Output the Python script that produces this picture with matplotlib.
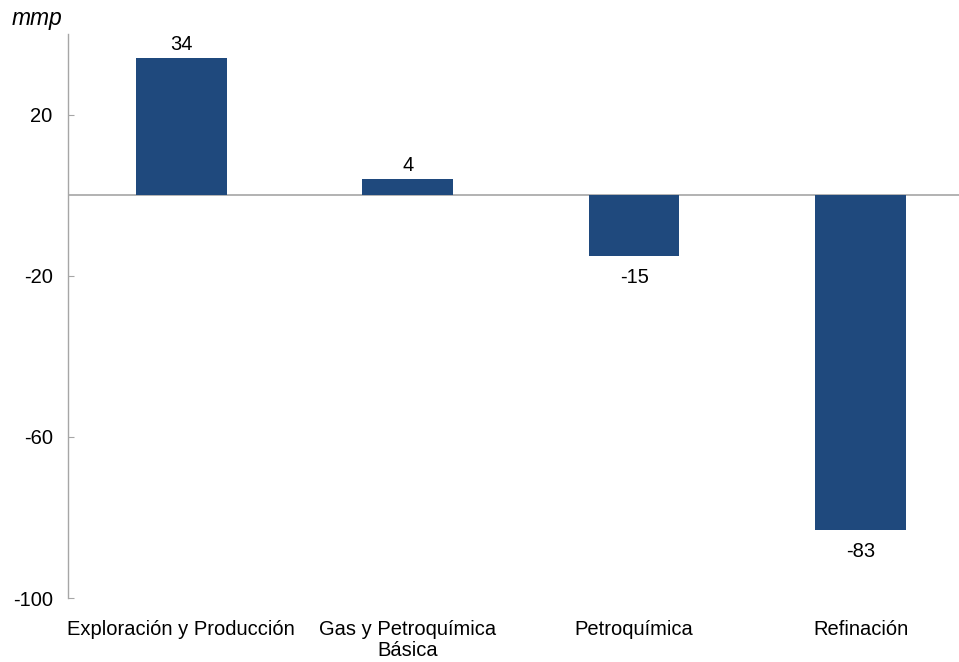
import numpy as np
import matplotlib.pyplot as plt

plt.rcParams['font.family'] = ['Liberation Sans', 'DejaVu Sans']

# datos
categorias = ['Exploración y Producción', 'Gas y Petroquímica\nBásica', 'Petroquímica', 'Refinación']
valores = [34, 4, -15, -83]
yticks = [-100, -60, -20, 20]

color_barra = '#1f497d'
color_eje = '#a6a6a6'
fs = 14.5

fig = plt.figure(figsize=(9.59, 6.62), dpi=100)
ax = fig.add_axes([68 / 959, 1 - 598 / 662, 1 - 68 / 959, (598 - 34) / 662])

x = np.arange(len(categorias))
ax.bar(x, valores, width=0.4, color=color_barra, zorder=2)

# etiquetas de valor
for xi, v in zip(x, valores):
    if v >= 0:
        ax.annotate(str(v), (xi, v), xytext=(0, 3), textcoords='offset points',
                    ha='center', va='bottom', fontsize=fs)
    else:
        ax.annotate(str(v), (xi, v), xytext=(0, -9), textcoords='offset points',
                    ha='center', va='top', fontsize=fs)

ax.axhline(0, color=color_eje, lw=1.2, zorder=1)

ax.set_ylim(-100, 40)
ax.set_xlim(-0.5, 3.435)
ax.set_yticks(yticks)
ax.set_yticklabels([str(t) for t in yticks], fontsize=fs)
ax.set_xticks(x)
ax.set_xticklabels(categorias, fontsize=fs, linespacing=1.12)

for s in ['top', 'right', 'bottom']:
    ax.spines[s].set_visible(False)
ax.spines['left'].set_color(color_eje)
ax.spines['left'].set_linewidth(1.0)

ax.tick_params(axis='y', direction='in', length=4, color=color_eje, pad=11)
ax.tick_params(axis='x', length=0, pad=16)

fig.text(12 / 959, 1 - 18 / 662, 'mmp', fontsize=16.5, style='italic', va='center', ha='left')

fig.savefig('out.png', dpi=100)
